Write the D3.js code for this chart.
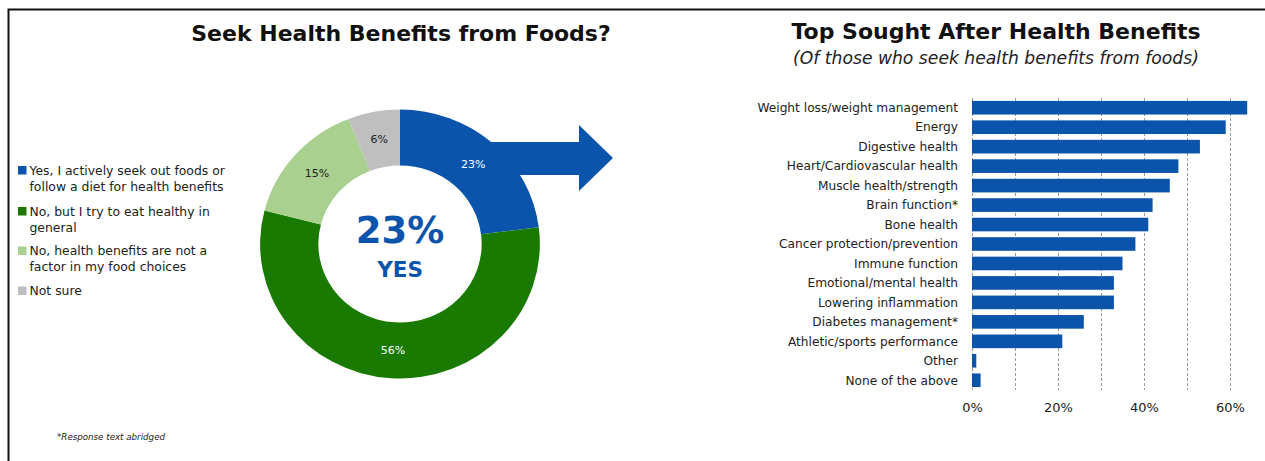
<!DOCTYPE html>
<html>
<head>
<meta charset="utf-8">
<script src="https://cdn.jsdelivr.net/npm/d3@7"></script>
<style>
  html, body { margin: 0; padding: 0; background: #fff; }
  svg { display: block; font-family: "DejaVu Sans", Verdana, sans-serif; }
</style>
</head>
<body>
<svg id="chart" width="1265" height="461"></svg>
<script>
// ---- Donut: seek health benefits from foods? ----
const donutLabels = [
  ["Yes, I actively seek out foods or", "follow a diet for health benefits"],
  ["No, but I try to eat healthy in", "general"],
  ["No, health benefits are not a", "factor in my food choices"],
  ["Not sure"]
];
const donutValues = [23, 56, 15, 6];
const donutColors = ["#0b54ab", "#1a7a00", "#a9d08e", "#bfbfbf"];
const donutTextColors = ["#ffffff", "#ffffff", "#222222", "#222222"];

// ---- Bars: top sought after health benefits ----
const benefitCategories = [
  "Weight loss/weight management", "Energy", "Digestive health",
  "Heart/Cardiovascular health", "Muscle health/strength", "Brain function*",
  "Bone health", "Cancer protection/prevention", "Immune function",
  "Emotional/mental health", "Lowering inflammation", "Diabetes management*",
  "Athletic/sports performance", "Other", "None of the above"
];
const benefitValues = [0.64, 0.59, 0.53, 0.48, 0.46, 0.42, 0.41, 0.38, 0.35, 0.33, 0.33, 0.26, 0.21, 0.01, 0.02];
const gridTicks = [0, 0.1, 0.2, 0.3, 0.4, 0.5, 0.6];
const axisTickLabels = [0, 0.2, 0.4, 0.6];

const BLUE = "#0b54ab";
const svg = d3.select("#chart");

// frame lines along the top and left
svg.append("path")
  .attr("d", "M8.5,461 V9.5 H1265")
  .attr("fill", "none").attr("stroke", "#111").attr("stroke-width", 2);

// ---- titles ----
svg.append("text").attr("x", 401).attr("y", 41)
  .attr("text-anchor", "middle").attr("font-weight", "bold")
  .attr("font-size", 22).attr("fill", "#111")
  .text("Seek Health Benefits from Foods?");

svg.append("text").attr("x", 996).attr("y", 39)
  .attr("text-anchor", "middle").attr("font-weight", "bold")
  .attr("font-size", 22).attr("fill", "#111")
  .text("Top Sought After Health Benefits");

svg.append("text").attr("x", 996).attr("y", 64)
  .attr("text-anchor", "middle").attr("font-style", "italic")
  .attr("font-size", 17.2).attr("fill", "#222")
  .text("(Of those who seek health benefits from foods)");

// ---- donut ----
const cx = 400, cy = 244, rOuter = 134.5, rInner = 78.5, sx = 1.04;
const g = svg.append("g");

// arrow leading out of the "yes" slice
const arrow = [
  [cx + 60, cy - 102], [cx + 179, cy - 102], [cx + 179, cy - 119],
  [cx + 213, cy - 86], [cx + 179, cy - 53], [cx + 179, cy - 69],
  [cx + 60, cy - 69]
];
g.append("path").attr("d", d3.line()(arrow) + "Z").attr("fill", BLUE);

const pie = d3.pie().sort(null).value(d => d);
const arcs = pie(donutValues);
const arcGen = d3.arc().innerRadius(rInner).outerRadius(rOuter);

const ring = g.append("g").attr("transform", `translate(${cx},${cy}) scale(${sx},1)`);
ring.selectAll("path").data(arcs).join("path")
  .attr("d", arcGen)
  .attr("fill", (d, i) => donutColors[i]);

g.selectAll("text.slice").data(arcs).join("text")
  .attr("class", "slice")
  .attr("x", d => cx + arcGen.centroid(d)[0] * sx)
  .attr("y", d => cy + arcGen.centroid(d)[1])
  .attr("dy", "0.35em")
  .attr("text-anchor", "middle")
  .attr("font-size", 11)
  .attr("fill", (d, i) => donutTextColors[i])
  .text(d => d.data + "%");

g.append("text").attr("x", cx).attr("y", cy - 1)
  .attr("text-anchor", "middle").attr("font-weight", "bold")
  .attr("font-size", 37).attr("fill", BLUE)
  .text(donutValues[0] + "%");
g.append("text").attr("x", cx).attr("y", cy + 33)
  .attr("text-anchor", "middle").attr("font-weight", "bold")
  .attr("font-size", 21.5).attr("fill", BLUE)
  .text("YES");

// ---- legend ----
const legendTops = [170.5, 211.5, 251, 291];
const legend = svg.append("g");
donutLabels.forEach((lines, i) => {
  legend.append("rect")
    .attr("x", 18).attr("y", legendTops[i] - 4.5)
    .attr("width", 8.5).attr("height", 8.5)
    .attr("fill", donutColors[i]);
  const t = legend.append("text")
    .attr("x", 29.5).attr("y", legendTops[i])
    .attr("font-size", 12.4).attr("fill", "#222");
  lines.forEach((line, j) => {
    t.append("tspan").attr("x", 29.5).attr("dy", j === 0 ? "0.35em" : 16).text(line);
  });
});

// footnote
svg.append("text").attr("x", 57).attr("y", 440)
  .attr("font-style", "italic").attr("font-size", 8.7).attr("fill", "#222")
  .text("*Response text abridged");

// ---- bar chart ----
const x = d3.scaleLinear().domain([0, 0.6]).range([972, 1230]);
const y = d3.scaleBand().domain(benefitCategories)
  .range([98, 390]).paddingInner(0.3).paddingOuter(0.15);

const bars = svg.append("g");

bars.selectAll("line.grid").data(gridTicks).join("line")
  .attr("class", "grid")
  .attr("x1", d => Math.round(x(d)) + 0.5).attr("x2", d => Math.round(x(d)) + 0.5)
  .attr("y1", 98).attr("y2", 390)
  .attr("stroke", "#9a9a9a").attr("stroke-width", 1)
  .attr("stroke-dasharray", "3,2");

bars.selectAll("rect").data(benefitValues).join("rect")
  .attr("x", x(0))
  .attr("y", (d, i) => y(benefitCategories[i]))
  .attr("width", d => x(d) - x(0))
  .attr("height", y.bandwidth())
  .attr("fill", BLUE);

bars.selectAll("text.cat").data(benefitCategories).join("text")
  .attr("class", "cat")
  .attr("x", 958)
  .attr("y", d => y(d) + y.bandwidth() / 2)
  .attr("dy", "0.35em")
  .attr("text-anchor", "end")
  .attr("font-size", 12.2).attr("fill", "#222")
  .text(d => d);

const xAxis = d3.axisBottom(x).tickValues(axisTickLabels)
  .tickFormat(d3.format(".0%")).tickSize(0).tickPadding(0);
const ax = svg.append("g").attr("transform", "translate(0,403)").call(xAxis);
ax.select(".domain").remove();
ax.selectAll("text")
  .attr("font-family", "DejaVu Sans, sans-serif")
  .attr("font-size", 13).attr("fill", "#222");
</script>
</body>
</html>
